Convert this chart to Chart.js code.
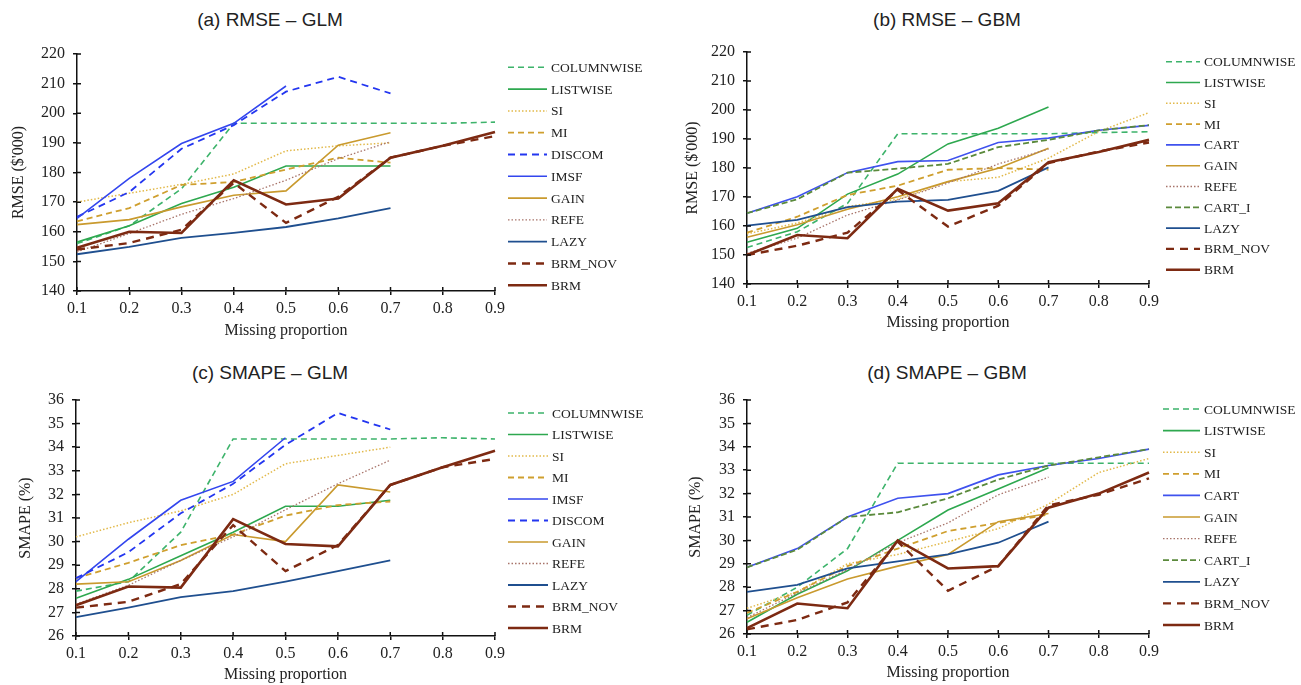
<!DOCTYPE html>
<html lang="en">
<head>
    <meta charset="UTF-8">
    <title>RMSE and SMAPE by missing proportion</title>
    <script src="https://cdn.jsdelivr.net/npm/chart.js"></script>
    <style>
        body { margin: 0; background: #fff; width: 1301px; height: 685px; position: relative; overflow: hidden; }
        .panel { position: absolute; }
        .title { position: absolute; width: 300px; text-align: center; font-family: "Liberation Sans", Arial, sans-serif; font-size: 19px; color: #222; line-height: 22px; }
    </style>
</head>
<body>
    <div class="title" style="left:120px; top:9px;">(a) RMSE – GLM</div>
    <div class="title" style="left:797px; top:9px;">(b) RMSE – GBM</div>
    <div class="title" style="left:120px; top:362px;">(c) SMAPE – GLM</div>
    <div class="title" style="left:797px; top:362px;">(d) SMAPE – GBM</div>

    <div class="panel" style="left:0; top:30px; width:660px; height:315px;"><canvas id="chartA"></canvas></div>
    <div class="panel" style="left:660px; top:30px; width:641px; height:315px;"><canvas id="chartB"></canvas></div>
    <div class="panel" style="left:0; top:380px; width:660px; height:305px;"><canvas id="chartC"></canvas></div>
    <div class="panel" style="left:660px; top:380px; width:641px; height:305px;"><canvas id="chartD"></canvas></div>

    <script>
        // x categories
        const proportions = ['0.1', '0.2', '0.3', '0.4', '0.5', '0.6', '0.7', '0.8', '0.9'];
        const rmseTicks = [140, 150, 160, 170, 180, 190, 200, 210, 220];
        const smapeTicks = [26, 27, 28, 29, 30, 31, 32, 33, 34, 35, 36];

        // (a) RMSE - GLM
        const rmseGlmColumnwise = [156, 162, 174.5, 196.6, 196.6, 196.6, 196.6, 196.6, 197];
        const rmseGlmListwise = [156.5, 162, 169.5, 175, 182.2, 182.2, 182.2];
        const rmseGlmSi = [170, 173, 176, 179.5, 187.3, 189, 190];
        const rmseGlmMi = [163.5, 168, 175.8, 176.8, 181, 185, 183.3];
        const rmseGlmDiscom = [165, 173.4, 188, 196, 207.3, 212.3, 206.7];
        const rmseGlmImsf = [164.5, 178, 189.8, 196.6, 209.2];
        const rmseGlmGain = [162.4, 164.1, 168.4, 172.3, 173.8, 189.2, 193.4];
        const rmseGlmRefe = [153.2, 159.4, 165.9, 171.2, 177.4, 184.7, 190.4];
        const rmseGlmLazy = [152.4, 154.9, 157.9, 159.6, 161.6, 164.5, 168];
        const rmseGlmBrmNov = [154, 156.2, 160.7, 176.5, 163, 171.8, 185, 189, 192.3];
        const rmseGlmBrm = [154.6, 160, 159.6, 177.4, 169.2, 171.2, 185, 189, 193.7];

        // (b) RMSE - GBM
        const rmseGbmColumnwise = [152.6, 158, 167.8, 191.8, 191.8, 191.8, 191.8, 192.2, 192.5];
        const rmseGbmListwise = [154.4, 159.2, 171, 177.9, 188.3, 193.7, 201];
        const rmseGbmSi = [157.3, 161, 166.7, 169.2, 175.3, 176.8, 183.4, 192.6, 199.1];
        const rmseGbmMi = [157.7, 163.2, 170.7, 173.9, 179.4, 180, 179.4];
        const rmseGbmCart = [164.4, 170.1, 178.4, 182.2, 182.6, 188.8, 190.3, 193, 194.7];
        const rmseGbmGain = [156.1, 160.4, 165.8, 170.1, 175.3, 179.9, 186.8];
        const rmseGbmRefe = [150.6, 155.8, 163.8, 169, 174.8, 181.4, 186.5];
        const rmseGbmCartI = [164.4, 169.2, 178.4, 179.8, 181.4, 187.2, 189.7, 193, 194.8];
        const rmseGbmLazy = [160.1, 162.1, 166.5, 168.4, 169, 172.1, 180.2];
        const rmseGbmBrmNov = [150, 153.2, 157.7, 172.4, 159.8, 167, 181.7, 185.7, 188.8];
        const rmseGbmBrm = [150, 156.9, 155.8, 172.8, 165.3, 167.8, 182, 185.5, 189.7];

        // (c) SMAPE - GLM
        const smapeGlmColumnwise = [27.9, 28.3, 30.4, 34.35, 34.35, 34.35, 34.35, 34.4, 34.35];
        const smapeGlmListwise = [27.6, 28.4, 29.4, 30.4, 31.5, 31.5, 31.75];
        const smapeGlmSi = [30.2, 30.8, 31.3, 32.0, 33.3, 33.65, 34.0];
        const smapeGlmMi = [28.45, 29.1, 29.85, 30.3, 31.1, 31.55, 31.7];
        const smapeGlmImsf = [28.3, 30.1, 31.75, 32.55, 34.4];
        const smapeGlmDiscom = [28.45, 29.55, 31.2, 32.45, 34.1, 35.45, 34.75];
        const smapeGlmGain = [28.2, 28.3, 29.2, 30.3, 30.0, 32.4, 32.1];
        const smapeGlmRefe = [27.35, 28.15, 29.2, 30.2, 31.35, 32.45, 33.45];
        const smapeGlmLazy = [26.8, 27.2, 27.65, 27.9, 28.3, 28.75, 29.2];
        const smapeGlmBrmNov = [27.2, 27.45, 28.2, 30.7, 28.75, 29.85, 32.4, 33.15, 33.5];
        const smapeGlmBrm = [27.3, 28.1, 28.05, 30.95, 29.9, 29.8, 32.4, 33.15, 33.85];

        // (d) SMAPE - GBM
        const smapeGbmColumnwise = [26.8, 28.0, 29.65, 33.3, 33.3, 33.3, 33.3, 33.3, 33.3];
        const smapeGbmListwise = [26.5, 27.7, 28.7, 30.0, 31.3, 32.2, 33.1];
        const smapeGbmSi = [27.1, 27.8, 29.0, 29.4, 29.95, 30.5, 31.55, 32.9, 33.5];
        const smapeGbmMi = [26.9, 27.8, 28.9, 29.65, 30.4, 30.75, 31.1];
        const smapeGbmCart = [28.85, 29.65, 31.0, 31.8, 32.0, 32.8, 33.2, 33.5, 33.9];
        const smapeGbmGain = [26.65, 27.55, 28.35, 28.9, 29.4, 30.8, 31.15];
        const smapeGbmRefe = [26.7, 27.75, 28.75, 29.9, 30.75, 31.95, 32.7];
        const smapeGbmCartI = [28.85, 29.6, 31.0, 31.2, 31.8, 32.6, 33.2, 33.55, 33.9];
        const smapeGbmLazy = [27.8, 28.1, 28.8, 29.1, 29.4, 29.9, 30.8];
        const smapeGbmBrmNov = [26.2, 26.6, 27.35, 29.95, 27.85, 28.9, 31.5, 31.95, 32.65];
        const smapeGbmBrm = [26.25, 27.3, 27.1, 30.0, 28.8, 28.9, 31.4, 32.0, 32.9];

        // line looks per method
        const styles = {
            COLUMNWISE: { color: '#3db36b', width: 1.6, dash: [6, 4] },
            LISTWISE:   { color: '#2ea84f', width: 1.6, dash: [] },
            SI:         { color: '#e2b94a', width: 1.5, dash: [1.5, 2] },
            MI:         { color: '#cf9f2e', width: 1.8, dash: [6, 4] },
            DISCOM:     { color: '#2336f0', width: 1.8, dash: [7, 5] },
            IMSF:       { color: '#3346ee', width: 1.6, dash: [] },
            CART:       { color: '#3f52ee', width: 1.6, dash: [] },
            GAIN:       { color: '#c99a2e', width: 1.6, dash: [] },
            REFE:       { color: '#a8746a', width: 1.3, dash: [1.5, 2] },
            CART_I:     { color: '#5b8a3c', width: 1.8, dash: [6, 3] },
            LAZY:       { color: '#1f4f8f', width: 1.8, dash: [] },
            BRM_NOV:    { color: '#7d2a12', width: 2.4, dash: [8, 6] },
            BRM:        { color: '#7d2a12', width: 2.6, dash: [] }
        };

        const serif = '"Liberation Serif", "Times New Roman", serif';

        // tick marks on the inside of the axes, so they cross the axis line
        const crossTicks = {
            id: 'crossTicks',
            afterDraw(chart) {
                const { ctx, chartArea, scales } = chart;
                ctx.save();
                ctx.strokeStyle = '#111';
                ctx.lineWidth = 1.5;
                ctx.beginPath();
                scales.x.ticks.forEach((t, i) => {
                    const px = scales.x.getPixelForTick(i);
                    ctx.moveTo(px, chartArea.bottom);
                    ctx.lineTo(px, chartArea.bottom - 4);
                });
                scales.y.ticks.forEach((t, i) => {
                    const py = scales.y.getPixelForTick(i);
                    ctx.moveTo(chartArea.left, py);
                    ctx.lineTo(chartArea.left + 4, py);
                });
                ctx.stroke();
                ctx.restore();
            }
        };

        // legend on the right, drawn as short line samples
        const sideLegend = {
            id: 'sideLegend',
            afterDraw(chart, args, opts) {
                const ctx = chart.ctx;
                ctx.save();
                ctx.font = '13.5px ' + serif;
                ctx.textBaseline = 'middle';
                chart.data.datasets.forEach((ds, i) => {
                    const y = opts.top + i * opts.step;
                    ctx.strokeStyle = ds.borderColor;
                    ctx.lineWidth = ds.borderWidth;
                    ctx.setLineDash(ds.borderDash);
                    ctx.beginPath();
                    ctx.moveTo(opts.left, y);
                    ctx.lineTo(opts.left + opts.len, y);
                    ctx.stroke();
                    ctx.setLineDash([]);
                    ctx.fillStyle = '#222';
                    ctx.fillText(ds.label, opts.left + opts.len + 4, y + 1);
                });
                ctx.restore();
            }
        };

        function makePanel(id, series, yTicks, yTitle, geom) {
            const n = series.length;
            const datasets = series.map(([name, values], i) => ({
                label: name,
                data: values,
                borderColor: styles[name].color,
                borderWidth: styles[name].width,
                borderDash: styles[name].dash,
                pointRadius: 0,
                tension: 0,
                fill: false,
                order: n - i
            }));
            new Chart(document.getElementById(id), {
                type: 'line',
                data: { labels: proportions, datasets: datasets },
                options: {
                    responsive: true,
                    maintainAspectRatio: false,
                    animation: false,
                    layout: { padding: geom.padding },
                    plugins: {
                        legend: { display: false },
                        tooltip: { enabled: false },
                        sideLegend: geom.legend
                    },
                    scales: {
                        x: {
                            offset: false,
                            border: { color: '#111', width: 1.5 },
                            grid: { drawOnChartArea: false, color: '#111', lineWidth: 1.5, tickLength: 4 },
                            ticks: { color: '#222', font: { family: serif, size: 16 }, padding: 4, maxRotation: 0, autoSkip: false },
                            title: { display: true, text: 'Missing proportion', color: '#222', font: { family: serif, size: 16 }, padding: { top: 0, bottom: geom.xTitlePad } },
                            afterFit: s => { s.height = geom.xHeight; }
                        },
                        y: {
                            min: yTicks[0],
                            max: yTicks[yTicks.length - 1],
                            afterBuildTicks: s => { s.ticks = yTicks.map(v => ({ value: v })); },
                            border: { color: '#111', width: 1.5 },
                            grid: { drawOnChartArea: false, color: '#111', lineWidth: 1.5, tickLength: 4 },
                            ticks: { color: '#222', font: { family: serif, size: 16 }, padding: 8 },
                            title: { display: true, text: yTitle, color: '#222', font: { family: serif, size: 16 }, padding: { top: geom.yTitlePad, bottom: 0 } },
                            afterFit: s => { s.width = geom.yWidth; }
                        }
                    }
                },
                plugins: [crossTicks, sideLegend]
            });
        }

        makePanel('chartA', [
            ['COLUMNWISE', rmseGlmColumnwise], ['LISTWISE', rmseGlmListwise], ['SI', rmseGlmSi],
            ['MI', rmseGlmMi], ['DISCOM', rmseGlmDiscom], ['IMSF', rmseGlmImsf], ['GAIN', rmseGlmGain],
            ['REFE', rmseGlmRefe], ['LAZY', rmseGlmLazy], ['BRM_NOV', rmseGlmBrmNov], ['BRM', rmseGlmBrm]
        ], rmseTicks, "RMSE ($'000)", {
            padding: { top: 24, right: 165, bottom: 4, left: 0 },
            xHeight: 50, xTitlePad: 1, yWidth: 77, yTitlePad: 9,
            legend: { left: 508, top: 37.3, step: 21.8, len: 39 }
        });

        makePanel('chartB', [
            ['COLUMNWISE', rmseGbmColumnwise], ['LISTWISE', rmseGbmListwise], ['SI', rmseGbmSi],
            ['MI', rmseGbmMi], ['CART', rmseGbmCart], ['GAIN', rmseGbmGain], ['REFE', rmseGbmRefe],
            ['CART_I', rmseGbmCartI], ['LAZY', rmseGbmLazy], ['BRM_NOV', rmseGbmBrmNov], ['BRM', rmseGbmBrm]
        ], rmseTicks, "RMSE ($'000)", {
            padding: { top: 22, right: 152, bottom: 11, left: 0 },
            xHeight: 50, xTitlePad: 2, yWidth: 87, yTitlePad: 23,
            legend: { left: 506, top: 31.7, step: 20.8, len: 34 }
        });

        makePanel('chartC', [
            ['COLUMNWISE', smapeGlmColumnwise], ['LISTWISE', smapeGlmListwise], ['SI', smapeGlmSi],
            ['MI', smapeGlmMi], ['IMSF', smapeGlmImsf], ['DISCOM', smapeGlmDiscom], ['GAIN', smapeGlmGain],
            ['REFE', smapeGlmRefe], ['LAZY', smapeGlmLazy], ['BRM_NOV', smapeGlmBrmNov], ['BRM', smapeGlmBrm]
        ], smapeTicks, 'SMAPE (%)', {
            padding: { top: 20, right: 165, bottom: 1, left: 0 },
            xHeight: 48, xTitlePad: 0, yWidth: 76, yTitlePad: 16,
            legend: { left: 508, top: 33, step: 21.5, len: 40 }
        });

        makePanel('chartD', [
            ['COLUMNWISE', smapeGbmColumnwise], ['LISTWISE', smapeGbmListwise], ['SI', smapeGbmSi],
            ['MI', smapeGbmMi], ['CART', smapeGbmCart], ['GAIN', smapeGbmGain], ['REFE', smapeGbmRefe],
            ['CART_I', smapeGbmCartI], ['LAZY', smapeGbmLazy], ['BRM_NOV', smapeGbmBrmNov], ['BRM', smapeGbmBrm]
        ], smapeTicks, 'SMAPE (%)', {
            padding: { top: 20, right: 152, bottom: 3, left: 0 },
            xHeight: 48, xTitlePad: 0, yWidth: 87, yTitlePad: 26,
            legend: { left: 503, top: 29, step: 21.6, len: 37 }
        });
    </script>
</body>
</html>
